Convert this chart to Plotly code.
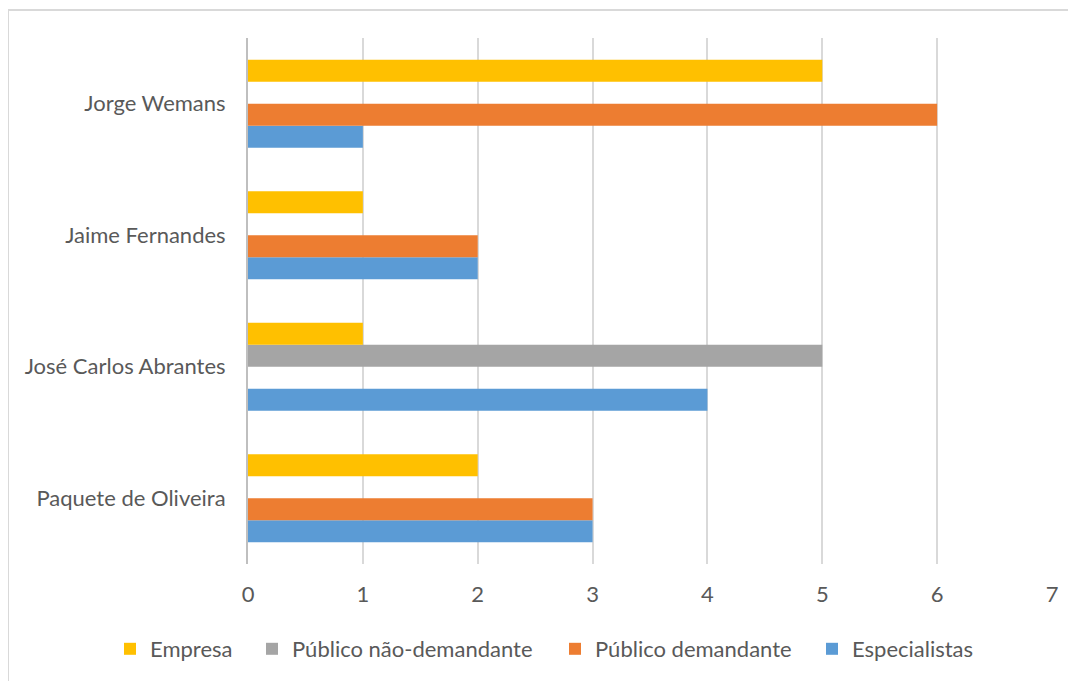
import plotly.graph_objects as go

categories = ["Paquete de Oliveira", "José Carlos Abrantes", "Jaime Fernandes", "Jorge Wemans"]
especialistas = [3, 4, 2, 1]
publico_demandante = [3, 0, 2, 6]
publico_nao_demandante = [0, 5, 0, 0]
empresa = [2, 1, 1, 5]
x_ticks = [0, 1, 2, 3, 4, 5, 6, 7]

series = [
    ("Especialistas", especialistas, "#5B9BD5"),
    ("Público demandante", publico_demandante, "#ED7D31"),
    ("Público não-demandante", publico_nao_demandante, "#A5A5A5"),
    ("Empresa", empresa, "#FFC000"),
]

font_family = "Lato, Open Sans, sans-serif"
text_color = "#595959"

# page body has an 8px margin; layout numbers below are in figure coordinates
L, R, T, B = 240, 32, 30, 125
W, H = 1076, 681
pw = W - L - R
ph = H - T - B

# legend text start positions (screen px) for each series, same order as series
legend_text_x = [852, 595, 292, 150]

fig = go.Figure()
legend_layout = {}
for i, (name, vals, color) in enumerate(series):
    lg = "legend" if i == 0 else f"legend{i + 1}"
    fig.add_trace(go.Bar(
        y=categories, x=vals, name=name, orientation="h",
        marker=dict(color=color, line=dict(width=0)),
        legend=lg,
    ))
    fx = legend_text_x[i] - 8 - 40
    legend_layout[lg] = dict(
        orientation="h", xref="container", x=fx / W, xanchor="left",
        yref="container", y=1 - (649 - 8) / H, yanchor="middle",
        font=dict(size=22, color=text_color), itemwidth=30,
        bgcolor="rgba(0,0,0,0)",
    )

fig.update_layout(
    width=W, height=H,
    margin=dict(l=L, r=R, t=T, b=B, autoexpand=False),
    paper_bgcolor="white", plot_bgcolor="white",
    barmode="group", bargap=0.33, bargroupgap=0,
    font=dict(family=font_family, color=text_color, size=22),
    showlegend=True,
    xaxis=dict(
        range=[0, 7], tickvals=x_ticks, showgrid=True, gridcolor="#D9D9D9",
        gridwidth=1.5, zeroline=False, showline=False, ticks="",
        tickfont=dict(size=22, color=text_color), ticklabelstandoff=15,
    ),
    yaxis=dict(
        range=[-0.5, 3.5], showgrid=False, zeroline=False,
        showline=True, linecolor="#BFBFBF", linewidth=2, ticks="",
        tickfont=dict(size=22, color=text_color), ticklabelstandoff=16,
    ),
    shapes=[dict(
        type="rect", xref="paper", yref="paper",
        x0=(0 - L) / pw, x1=1.3, y0=-0.5, y1=1 + (T - 2) / ph,
        line=dict(color="#D9D9D9", width=2), fillcolor="rgba(0,0,0,0)", layer="below",
    )],
    **legend_layout,
)

fig.write_html("out.html")
